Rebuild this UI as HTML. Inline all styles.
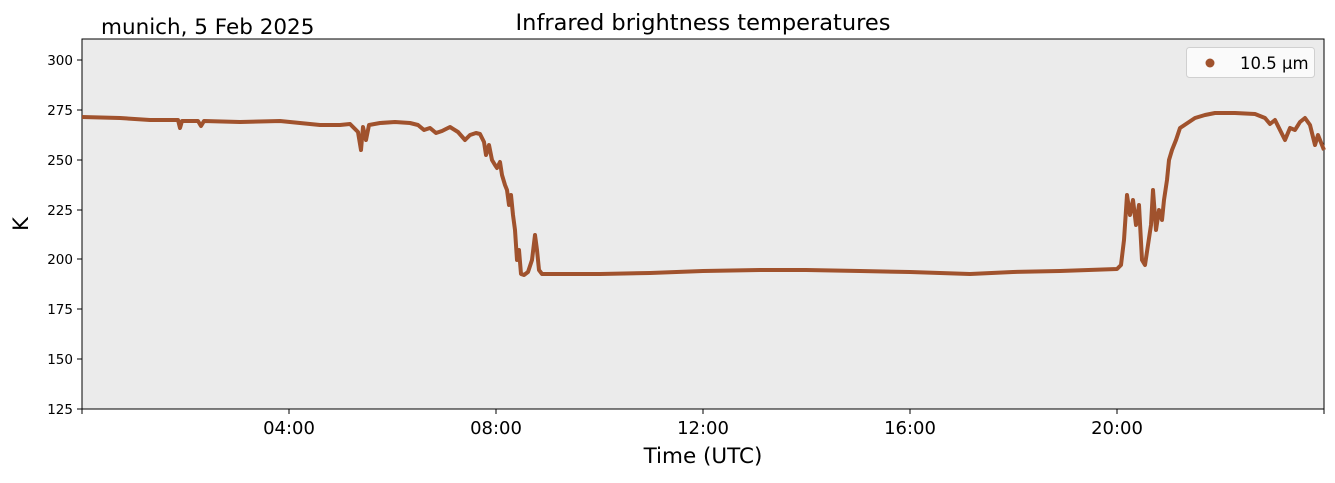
<!DOCTYPE html><html><head><style>body{margin:0;background:#fff;}svg text{font-family:"DejaVu Sans","Liberation Sans",sans-serif;}</style></head><body>
<svg width="1335" height="478" xmlns="http://www.w3.org/2000/svg">
<rect x="82" y="39" width="1242" height="370" fill="#ebebeb" stroke="#000" stroke-width="1"/>
<g fill="none" stroke="#a0522d" stroke-width="4" stroke-linejoin="round">
<path d="M82 117 L120 118 L150 120 L178 120 L180 128 L182 121 L198 121 L201 126 L204 121 L240 122 L280 121 L300 123 L320 125 L340 125 L350 124 L358 132 L361 150 L363 127 L366 140 L369 125 L380 123 L395 122 L410 123 L418 125 L424 130 L430 128 L436 133 L442 131 L450 127 L458 132 L465 140 L470 135 L476 133 L480 134 L484 142 L486 155 L489 145 L492 160 L495 165 L497 168 L500 162 L502 175 L505 185 L507 190 L509 205 L511 195 L513 215 L515 230 L517 260 L519 250 L521 274 L524 275 L528 272 L532 260 L535 235 L537 250 L539 270 L542 274 L550 274 L600 274 L650 273 L703 271 L760 270 L806 270 L860 271 L910 272 L940 273 L970 274 L1013 272 L1060 271 L1117 269 L1121 265 L1124 240 L1127 195 L1130 215 L1133 200 L1136 225 L1139 205 L1142 260 L1145 265 L1148 245 L1151 225 L1153 190 L1156 230 L1159 210 L1162 220 L1164 200 L1167 180 L1169 160 L1172 150 L1176 140 L1180 128 L1186 124 L1195 118 L1205 115 L1215 113 L1235 113 L1255 114 L1265 118 L1270 124 L1275 120 L1280 130 L1285 140 L1290 128 L1295 130 L1300 122 L1305 118 L1310 125 L1315 145 L1318 135 L1324 150"/>
</g>
<g stroke="#000" stroke-width="1">
<line x1="77" y1="60" x2="82" y2="60"/><line x1="77" y1="110" x2="82" y2="110"/><line x1="77" y1="160" x2="82" y2="160"/><line x1="77" y1="210" x2="82" y2="210"/><line x1="77" y1="259" x2="82" y2="259"/><line x1="77" y1="309" x2="82" y2="309"/><line x1="77" y1="359" x2="82" y2="359"/><line x1="77" y1="409" x2="82" y2="409"/>
<line x1="82" y1="409" x2="82" y2="414"/><line x1="289" y1="409" x2="289" y2="414"/><line x1="496" y1="409" x2="496" y2="414"/><line x1="703" y1="409" x2="703" y2="414"/><line x1="910" y1="409" x2="910" y2="414"/><line x1="1117" y1="409" x2="1117" y2="414"/><line x1="1324" y1="409" x2="1324" y2="414"/>
</g>
<g font-size="13.5" text-anchor="end">
<text x="73" y="65">300</text><text x="73" y="115">275</text><text x="73" y="165">250</text><text x="73" y="215">225</text><text x="73" y="264">200</text><text x="73" y="314">175</text><text x="73" y="364">150</text><text x="73" y="414">125</text>
</g>
<g font-size="18" text-anchor="middle">
<text x="289" y="434">04:00</text><text x="496" y="434">08:00</text><text x="703" y="434">12:00</text><text x="910" y="434">16:00</text><text x="1117" y="434">20:00</text>
</g>
<text x="703" y="463" font-size="21.5" text-anchor="middle">Time (UTC)</text>
<text x="28" y="224" font-size="21" text-anchor="middle" transform="rotate(-90 28 224)">K</text>
<text x="703" y="30" font-size="22.5" text-anchor="middle">Infrared brightness temperatures</text>
<text x="101" y="34" font-size="21.5">munich, 5 Feb 2025</text>
<rect x="1186.5" y="47.5" width="128" height="30" rx="3" fill="#fafafa" stroke="#d0d0d0"/>
<circle cx="1210" cy="63" r="4.5" fill="#a0522d"/>
<text x="1240" y="69" font-size="16.5">10.5 µm</text>
</svg>
</body></html>
